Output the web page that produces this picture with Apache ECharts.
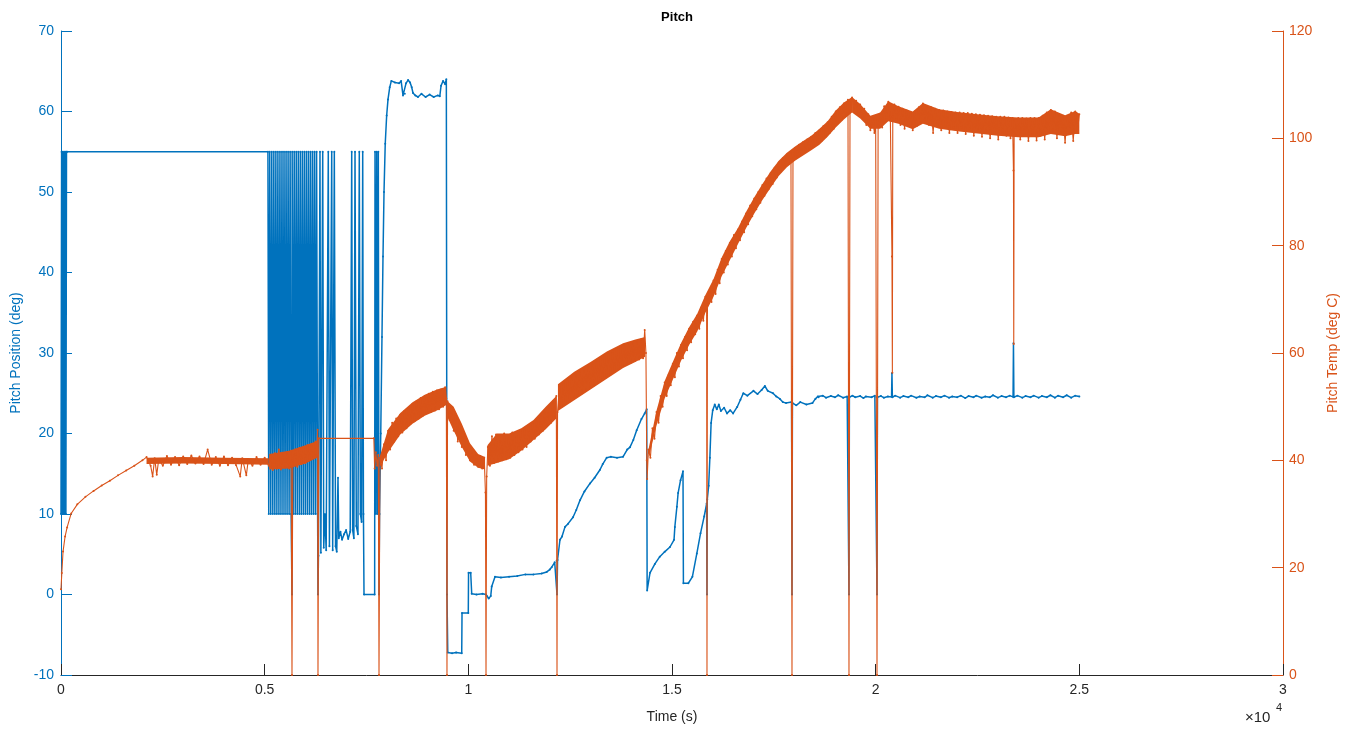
<!DOCTYPE html>
<html>
<head>
<meta charset="utf-8">
<script src="https://cdn.jsdelivr.net/npm/echarts@6/dist/echarts.min.js"></script>
<style>html,body{margin:0;padding:0;background:#fff;}#chart{width:1354px;height:729px;}</style>
</head>
<body>
<div id="chart"></div>
<script>
// ---- DATA ----
var chartTitle = "Pitch";
var xAxisName = "Time (s)";
var leftAxisName = "Pitch Position (deg)";
var rightAxisName = "Pitch Temp (deg C)";
var xTickLabels = ["0", "0.5", "1", "1.5", "2", "2.5", "3"];
var xExponentLabel = "\u00d710";
var xExponent = "4";

// Pitch position [time s, deg] (left axis)
var pitchPosition = [
[0,10],[15,55],[30,10],[45,55],[60,10],[75,55],[90,10],[105,55],[120,10],[135,55],[150,55],
[5080,55],
[5100,10],[5125,55],[5150,10],[5175,55],[5200,10],[5225,55],[5250,10],[5275,55],[5300,10],[5325,55],
[5350,10],[5375,55],[5400,10],[5425,55],[5450,10],[5475,55],[5500,10],[5525,55],[5550,10],[5575,55],
[5600,10],[5625,55],[5650,10],[5671,0],[5675,55],[5700,10],[5725,55],[5750,10],[5775,55],[5800,10],
[5825,55],[5850,10],[5875,55],[5900,10],[5925,55],[5950,10],[5975,55],[6000,10],[6025,55],[6050,10],
[6075,55],[6100,10],[6125,55],[6150,10],[6175,55],[6200,10],[6225,55],[6250,10],[6275,55],[6300,10],
[6309,0],
[6320,4.8],[6358,55],[6380,5.2],[6425,55],[6450,5.8],[6480,10],[6510,5.5],[6562,55],[6590,6.0],[6646,55],
[6670,5.5],[6710,55],[6740,6.0],[6770,5.3],[6800,14.5],[6820,7.0],[6860,7.8],[6900,6.8],[6950,7.5],
[7000,8.0],[7050,6.9],[7100,7.8],[7137,55],[7160,8.0],[7190,7.0],[7218,55],[7250,8.5],[7290,7.5],
[7323,55],[7350,10.0],[7380,9.0],[7407,55],[7425,10],[7439,0],[7700,0],[7709,55],[7730,10],[7750,55],
[7770,10],[7790,55],[7807,0],
[7820,10],[7850,20],[7880,32],[7905,42],[7930,50],[7960,56],[7995,59.5],[8028,61.5],[8070,63.0],
[8110,63.8],[8200,63.6],[8300,63.5],[8350,63.8],[8396,62.0],[8440,62.2],[8470,63.5],[8520,63.9],
[8570,63.6],[8610,63.0],[8642,62.3],[8700,62.0],[8764,61.8],[8850,62.2],[8950,61.8],[9050,62.1],
[9150,61.8],[9250,62.0],[9300,61.9],[9330,63.2],[9380,63.8],[9430,63.4],[9460,64.0],[9476,0],
[9495,-7.2],[9600,-7.3],[9700,-7.2],[9838,-7.3],[9845,-2.3],[9999,-2.3],[10005,2.7],[10058,2.7],
[10083,0.1],[10200,0.0],[10350,0.1],[10434,0],[10451,-0.2],[10500,-0.5],[10550,-0.2],[10574,1.0],
[10655,2.2],[10800,2.1],[11000,2.2],[11200,2.3],[11400,2.5],[11600,2.5],[11800,2.6],[11924,2.8],
[12000,3.1],[12047,3.4],[12120,4.0],[12167,4.2],[12177,0],[12190,4.3],[12250,6.8],[12300,7.2],[12373,8.4],
[12450,8.8],[12570,9.6],[12650,10.5],[12741,11.7],[12850,12.8],[12987,13.8],[13100,14.5],[13232,15.5],
[13300,16.2],[13397,17.0],[13500,17.1],[13650,17.0],[13797,17.1],[13900,18.0],[13969,18.3],[14050,19.2],
[14133,20.4],[14250,21.8],[14330,22.5],[14379,23.0],[14390,0.5],[14460,2.7],[14580,3.8],[14700,4.7],
[14820,5.3],[14950,5.9],[15050,6.8],[15070,8.4],[15120,10.9],[15150,12.6],[15210,14.2],[15270,15.3],
[15280,1.4],[15400,1.4],[15500,2.2],[15610,5.1],[15700,7.6],[15790,9.7],[15850,11.3],[15859,0],[15866,11.8],
[15900,13.5],[15930,17.0],[15960,21.3],[16000,22.9],[16050,23.6],[16100,23.0],[16150,23.6],[16200,22.8],
[16280,23.2],[16350,22.5],[16430,22.9],[16500,22.5],[16600,23.3],[16680,24.2],[16750,25.0],[16850,24.7],
[17000,25.3],[17100,24.9],[17200,25.4],[17280,25.9],[17350,25.3],[17480,25.0],[17560,24.6],[17650,24.3],
[17720,23.9],[17800,23.8],[17936,23.9],[17946,0],[17956,23.8],[18050,23.5],[18150,23.9],[18300,23.6],
[18450,23.8],[18520,24.3],[18580,24.6],
[18600,24.5],[18700,24.7],[18780,24.45],[18900,24.65],[19000,24.5],[19080,24.75],[19200,24.45],[19300,24.6],
[19335,24.5],[19345,0],[19355,24.5],[19430,24.7],[19500,24.5],[19620,24.65],[19700,24.4],[19760,24.6],
[19900,24.5],[19980,24.7],[20023,24.5],[20033,0],[20043,24.5],[20130,24.65],[20200,24.45],[20300,24.6],
[20390,24.55],[20400,27.5],[20410,24.5],[20480,24.7],[20600,24.45],[20680,24.65],[20800,24.5],[20870,24.7],
[21000,24.45],[21080,24.6],[21200,24.5],[21270,24.75],[21400,24.45],[21480,24.65],[21600,24.5],[21690,24.7],
[21800,24.45],[21880,24.6],[22000,24.5],[22090,24.7],[22200,24.4],[22280,24.65],[22400,24.5],[22470,24.7],
[22600,24.45],[22690,24.6],[22800,24.5],[22880,24.75],[23000,24.45],[23090,24.65],[23200,24.5],[23290,24.7],
[23373,24.55],[23383,31.2],[23393,24.5],[23480,24.7],[23600,24.45],[23680,24.65],[23800,24.5],[23880,24.7],
[24000,24.45],[24080,24.65],[24200,24.5],[24290,24.75],[24400,24.45],[24480,24.7],[24600,24.5],[24690,24.75],
[24800,24.45],[24900,24.7],[25000,24.6]
];

// Pitch temperature [time s, deg C] (right axis)
var pitchTemp = [
[0,16],[20,19],[50,23],[100,25.8],[150,27.5],[250,30.1],[400,31.8],[600,33.2],[800,34.3],[1000,35.3],
[1200,36.2],[1400,37.2],[1600,38.1],[1800,39],[2000,40],
[2100,40.6],[2200,39.0],[2250,37.0],[2300,40.4],[2350,37.3],[2400,40.2],[2500,39.0],[2600,40.8],[2700,39.2],
[2800,40.6],[2900,39.1],[3000,40.7],[3100,39.3],[3200,40.9],[3300,39.4],[3400,40.7],[3500,39.3],[3600,42.0],
[3700,39.2],[3800,40.6],[3900,39.0],[4000,40.7],[4100,39.1],[4200,40.5],[4300,39.1],[4400,37.0],[4450,40.4],
[4550,37.2],[4600,40.2],[4700,39.0],[4800,40.6],[4900,39.2],[5000,40.5],[5100,39.0],
[5150,41.0],[5200,38.2],[5250,41.3],[5300,38.5],[5350,42.0],[5400,38.3],[5450,41.2],[5500,38.7],[5550,41.5],
[5600,38.5],[5650,41.8],[5671,0],[5690,40.0],[5750,42.0],[5800,38.8],[5850,42.3],[5900,39.3],[5950,42.5],
[6000,39.5],[6050,42.8],[6100,40.0],[6150,43.0],[6200,40.5],[6250,43.5],[6280,41.0],[6300,45.7],[6309,0],
[6330,44.1],[7680,44.1],[7700,38.5],[7730,41.5],[7760,39.0],[7790,41.0],[7807,0],
[7830,40.5],[7880,38.5],[7930,43.0],[7980,40.0],[8030,45.5],[8080,42.0],[8130,47.0],[8180,43.5],[8230,47.8],
[8280,44.5],[8330,48.5],[8380,45.2],[8430,49.2],[8480,46.0],[8530,49.8],[8580,46.8],[8630,50.5],[8680,47.3],
[8730,51.0],[8780,47.8],[8830,51.6],[8880,48.3],[8930,52.0],[8980,48.8],[9030,52.4],[9080,49.0],[9130,52.8],
[9180,49.3],[9230,53.0],[9280,49.5],[9330,53.2],[9380,50.0],[9430,53.6],[9460,51.5],[9476,0],
[9490,51.0],[9540,47.5],[9590,50.0],[9640,45.5],[9690,48.5],[9740,43.5],[9790,47.0],[9840,42.5],[9890,45.0],
[9940,41.0],[9990,43.0],[10040,40.0],[10090,41.5],[10140,39.2],[10190,41.0],[10240,38.8],[10290,40.8],
[10340,38.5],[10390,40.5],[10420,34.0],[10434,0],
[10450,37.0],[10480,42.5],[10530,39.0],[10580,44.5],[10630,39.5],[10680,44.8],[10730,39.8],[10780,43.5],
[10830,40.0],[10880,45.0],[10930,40.2],[10980,44.0],[11030,40.5],[11080,45.2],[11130,41.0],[11180,44.5],
[11230,41.5],[11280,45.5],[11330,42.0],[11380,46.0],[11430,42.5],[11480,46.5],[11530,43.5],[11580,47.0],
[11630,44.0],[11680,47.5],[11730,44.8],[11780,48.5],[11830,45.5],[11880,49.0],[11930,46.5],[11980,50.0],
[12030,47.0],[12080,51.0],[12130,48.0],[12160,52.0],[12177,0],
[12190,49.0],[12240,54.0],[12290,50.0],[12340,54.5],[12390,50.5],[12440,55.0],[12490,51.0],[12540,55.5],
[12590,51.5],[12640,56.0],[12690,52.0],[12740,56.5],[12790,52.5],[12840,57.0],[12890,53.0],[12940,57.5],
[12990,53.5],[13040,58.0],[13090,54.0],[13140,58.5],[13190,54.5],[13240,59.0],[13290,55.0],[13340,59.5],
[13390,55.5],[13440,60.0],[13490,56.0],[13540,60.3],[13590,56.5],[13640,60.8],[13690,57.0],[13740,61.2],
[13790,57.5],[13840,61.5],[13890,58.0],[13940,61.8],[13990,58.2],[14040,62.0],[14090,58.5],[14140,62.2],
[14190,58.8],[14240,62.5],[14290,59.0],[14330,64.3],[14360,60.0],[14380,40.0],[14390,36.5],
[14420,42.0],[14470,40.5],[14520,46.0],[14570,44.0],[14620,49.0],[14670,47.0],[14720,52.0],[14770,50.0],
[14820,54.5],[14870,52.0],[14920,56.0],[14970,54.0],[15020,58.0],[15070,55.5],[15120,60.0],[15170,57.5],
[15220,61.5],[15270,59.0],[15320,63.0],[15370,60.5],[15420,64.5],[15470,62.0],[15520,65.8],[15570,63.5],
[15620,67.0],[15670,64.5],[15720,68.5],[15770,66.0],[15820,70.5],[15850,68.0],[15859,0],[15870,69.0],
[15920,71.5],[15970,69.5],[16020,73.5],[16070,71.0],[16120,75.5],[16170,73.0],[16220,77.5],[16270,75.0],
[16320,79.0],[16370,76.5],[16420,80.5],[16470,78.0],[16520,82.0],[16570,79.5],[16620,83.0],[16670,81.0],
[16720,84.5],[16770,82.5],[16820,86.0],[16870,84.0],[16920,87.5],[16970,85.5],[17020,88.8],[17070,86.8],
[17120,90.0],[17170,88.0],[17220,91.3],[17270,89.3],[17320,92.5],[17370,90.5],[17420,93.5],[17470,91.5],
[17520,94.5],[17570,92.7],[17620,95.5],[17670,93.8],[17720,96.3],[17770,94.7],[17820,97.0],[17870,95.3],
[17920,97.5],[17946,0],[17970,96.0],[18020,98.2],[18070,96.5],[18120,98.8],[18170,97.0],[18220,99.3],
[18270,97.5],[18320,99.8],[18370,98.0],[18420,100.3],[18470,98.5],[18520,101.0],[18570,99.0],[18620,101.5],
[18670,99.5],[18720,102.3],[18770,100.3],[18820,103.0],[18870,101.0],[18920,104.0],[18970,101.8],[19020,105.0],
[19070,102.8],[19120,105.8],[19170,103.5],[19220,106.5],[19270,104.3],[19320,107.2],[19345,0],[19370,105.0],
[19420,107.6],[19470,105.5],
[19520,107.0],[19570,104.8],[19620,106.3],[19670,103.8],[19720,105.5],[19770,102.5],[19820,104.5],[19870,101.5],
[19920,103.8],[19970,101.0],[20000,103.5],[20033,0],[20060,102.5],[20110,104.6],[20160,102.0],[20210,106.0],
[20260,103.5],[20310,106.8],[20360,104.0],[20400,78.0],[20410,56.3],[20420,104.0],[20460,106.3],[20510,103.5],
[20560,105.9],[20610,102.5],[20660,105.5],[20710,101.8],[20760,105.2],[20810,102.5],[20860,104.8],[20910,101.5],
[20960,105.0],[21010,102.3],[21060,105.8],[21110,103.0],[21160,106.5],[21210,103.5],[21260,106.0],[21310,102.5],
[21360,105.8],[21410,101.0],[21460,105.5],[21510,102.5],[21560,105.3],[21610,101.5],[21660,105.2],[21710,102.3],
[21760,105.0],[21810,101.0],[21860,104.9],[21910,102.0],[21960,104.8],[22010,101.0],[22060,104.8],[22110,102.0],
[22160,104.7],[22210,100.8],[22260,104.7],[22310,101.8],[22360,104.6],[22410,100.5],[22460,104.5],[22510,101.5],
[22560,104.4],[22610,100.3],[22660,104.3],[22710,101.5],[22760,104.2],[22810,100.0],[22860,104.1],[22910,101.2],
[22960,104.0],[23010,99.8],[23060,104.0],[23110,101.0],[23160,104.0],[23210,100.5],[23260,103.9],[23310,100.0],
[23360,103.8],[23383,94.0],[23390,61.7],[23400,103.5],[23450,100.5],[23500,103.8],[23550,99.8],[23600,103.8],
[23650,100.8],[23700,103.7],[23750,99.5],[23800,103.8],[23850,100.8],[23900,103.8],[23950,99.6],[24000,103.8],
[24050,100.5],[24100,104.2],[24150,99.8],[24200,104.8],[24250,101.0],[24300,105.3],[24350,101.5],[24400,105.0],
[24450,100.0],[24500,104.5],[24550,101.0],[24600,104.2],[24650,99.2],[24700,104.0],[24750,101.0],[24800,104.8],
[24850,99.5],[24900,105.0],[24950,101.0],[25000,104.5]
];

// Dense-noise envelope of the temperature trace [time s, low, high], one list per stretch
var tempBandB = [[2100,39.3,40.5],[3000,39.4,40.6],[4000,39.3,40.5],[5100,39.2,40.4]];
var tempBandC = [[5110,38.3,41.2],[5600,38.5,41.8],[6000,39.4,42.8],[6290,40.5,43.6]];
var tempBandD = [[7830,38.8,40.8],[8030,41.5,45.8],[8330,44.8,48.8],[8630,46.8,50.8],[8930,48.3,52.2],
                 [9230,49.3,53.2],[9460,50.3,53.7]];
var tempBandE = [[9490,48.0,51.0],[9640,45.5,50.0],[9840,42.5,46.8],[10040,39.8,43.2],[10240,38.6,41.2],[10410,38.3,40.6]];
var tempBandF = [[10470,39.0,42.8],[10700,39.5,45.0],[11000,40.2,45.0],[11300,41.8,46.0],[11600,43.8,47.5],
                 [11900,45.8,50.0],[12160,47.8,52.0]];
var tempBandG = [[12200,49.2,54.2],[12600,51.2,56.5],[13000,53.2,58.3],[13400,55.2,60.3],[13800,57.2,61.8],
                 [14100,58.3,62.5],[14340,59.3,63.0]];
var tempBandH = [[14430,40.5,42.3],[14620,46.5,49.3],[14820,51.5,54.8],[15020,55.0,58.3],[15220,58.5,61.8],
                 [15420,61.5,64.8],[15620,64.0,67.3],[15820,67.5,70.8],[16020,70.5,73.8],[16220,74.3,77.8],
                 [16420,77.3,80.8],[16620,80.3,83.3],[16820,83.3,86.3],[17020,86.0,89.0],[17220,88.5,91.5],
                 [17420,90.8,93.8],[17620,93.0,95.8],[17820,94.6,97.3],[18020,95.8,98.5],[18220,96.8,99.5],
                 [18420,97.8,100.5],[18620,98.8,101.8],[18820,100.3,103.2],[19020,102.0,105.2],[19220,103.5,106.7],
                 [19420,104.8,107.7]];
var tempBandI = [[19420,104.8,107.7],[19620,103.7,106.4],[19870,101.8,104.2],[20110,101.8,104.8],[20310,103.2,106.9],
                 [20560,102.7,106.0],[20910,101.7,105.0],[21160,102.7,106.6],[21560,101.8,105.4],[22000,101.3,104.9],
                 [22500,100.9,104.5],[23000,100.5,104.1],[23500,100.2,103.9],[24000,100.2,103.9],[24300,100.8,105.4],
                 [24650,100.4,104.3],[24900,100.8,105.1],[25000,100.8,104.6]];
var tempBands = [tempBandB, tempBandC, tempBandD, tempBandE, tempBandF, tempBandG, tempBandH, tempBandI];

// ---- CHART ----
var BLUE = '#0072BD', ORANGE = '#D95319', DARK = '#262626';
var FONT = '"Liberation Sans", Arial, Helvetica, sans-serif';
var chart = echarts.init(document.getElementById('chart'), null, {renderer: 'canvas'});
chart.setOption({
  animation: false,
  backgroundColor: '#ffffff',
  title: {
    text: chartTitle, left: 'center', top: 6,
    textStyle: {fontFamily: FONT, fontSize: 13, fontWeight: 'bold', color: '#000'}
  },
  grid: {left: 61, right: 71, top: 31, bottom: 54, containLabel: false},
  xAxis: {
    type: 'value', min: 0, max: 30000, interval: 5000,
    name: xAxisName, nameLocation: 'middle', nameGap: 35,
    nameTextStyle: {fontFamily: FONT, fontSize: 14, color: DARK},
    axisLine: {show: true, onZero: false, lineStyle: {color: DARK, width: 1}},
    axisTick: {show: true, inside: true, length: 11, lineStyle: {color: DARK}},
    axisLabel: {
      fontFamily: FONT, fontSize: 14, color: DARK, margin: 8,
      formatter: function (v) { return xTickLabels[Math.round(v / 5000)]; }
    },
    splitLine: {show: false}
  },
  yAxis: [
    {
      type: 'value', min: -10, max: 70, interval: 10, position: 'left',
      name: leftAxisName, nameLocation: 'middle', nameGap: 36,
      nameTextStyle: {fontFamily: FONT, fontSize: 14, color: BLUE},
      axisLine: {show: true, onZero: false, lineStyle: {color: BLUE, width: 1}},
      axisTick: {show: true, inside: true, length: 11, lineStyle: {color: BLUE}},
      axisLabel: {fontFamily: FONT, fontSize: 14, color: BLUE, margin: 7},
      splitLine: {show: false}
    },
    {
      type: 'value', min: 0, max: 120, interval: 20, position: 'right',
      name: rightAxisName, nameLocation: 'middle', nameGap: 43,
      nameTextStyle: {fontFamily: FONT, fontSize: 14, color: ORANGE},
      axisLine: {show: true, onZero: false, lineStyle: {color: ORANGE, width: 1}},
      axisTick: {show: true, inside: true, length: 11, lineStyle: {color: ORANGE}},
      axisLabel: {fontFamily: FONT, fontSize: 14, color: ORANGE, margin: 6},
      splitLine: {show: false}
    }
  ],
  graphic: [
    {type: 'text', left: 1245, top: 710, style: {text: xExponentLabel, fontFamily: FONT, fontSize: 15, fill: DARK}},
    {type: 'text', left: 1276, top: 702, style: {text: xExponent, fontFamily: FONT, fontSize: 11, fill: DARK}}
  ],
  series: [
    {
      type: 'line', name: leftAxisName, yAxisIndex: 0, data: pitchPosition, z: 2,
      showSymbol: true, showAllSymbol: true, symbol: 'circle', symbolSize: 2,
      itemStyle: {color: BLUE}, lineStyle: {color: BLUE, width: 1.5},
      sampling: null, silent: true
    },
    {
      type: 'custom', name: 'temp band', yAxisIndex: 1, z: 3, silent: true,
      data: tempBands.map(function (seg, i) { return [seg[0][0], seg[0][1], i]; }),
      encode: {x: 0, y: 1},
      renderItem: function (params, api) {
        var seg = tempBands[api.value(2)];
        var pts = [];
        for (var k = 0; k < seg.length; k++) pts.push(api.coord([seg[k][0], seg[k][2]]));
        for (var j = seg.length - 1; j >= 0; j--) pts.push(api.coord([seg[j][0], seg[j][1]]));
        return {type: 'polygon', shape: {points: pts}, style: {fill: ORANGE}};
      }
    },
    {
      type: 'line', name: rightAxisName, yAxisIndex: 1, data: pitchTemp, z: 4,
      showSymbol: true, showAllSymbol: true, symbol: 'circle', symbolSize: 2,
      itemStyle: {color: ORANGE}, lineStyle: {color: ORANGE, width: 1.1},
      sampling: null, silent: true
    }
  ]
});
</script>
</body>
</html>
